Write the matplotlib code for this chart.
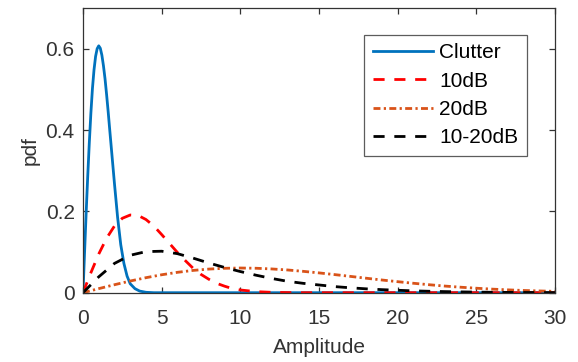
import matplotlib
matplotlib.use("Agg")
import matplotlib.pyplot as plt

plt.rcParams["font.family"] = ["Liberation Sans", "DejaVu Sans"]

# ---- data ----
clutter_x = [0, 0.1, 0.2, 0.3, 0.4, 0.5, 0.6, 0.7, 0.8, 0.9, 1.0, 1.1, 1.2,
             1.3, 1.4, 1.5, 1.6, 1.7, 1.8, 1.9, 2.0, 2.2, 2.4, 2.6, 2.8, 3.0,
             3.3, 3.6, 4.0, 4.5, 30]
clutter_y = [0, 0.0995, 0.196, 0.286, 0.368, 0.441, 0.502, 0.548, 0.581, 0.600,
             0.607, 0.601, 0.584, 0.558, 0.526, 0.487, 0.445, 0.400, 0.356,
             0.312, 0.268, 0.185, 0.118, 0.072, 0.041, 0.022, 0.010, 0.004,
             0.001, 0, 0]

db10_x = [0, 0.5, 1, 1.5, 2, 2.5, 3, 3.5, 4, 4.5, 5, 5.5, 6, 6.5, 7, 7.5, 8,
          8.5, 9, 9.5, 10, 11, 12, 13, 14, 30]
db10_y = [0, 0.049, 0.095, 0.134, 0.164, 0.183, 0.191, 0.190, 0.180, 0.164,
          0.143, 0.121, 0.099, 0.079, 0.060, 0.045, 0.033, 0.023, 0.016, 0.010,
          0.0067, 0.0026, 0.0009, 0.0003, 0, 0]

db20_x = list(range(0, 31))
db20_y = [0, 0.0100, 0.0196, 0.0287, 0.0369, 0.0441, 0.0501, 0.0548, 0.0581,
          0.0600, 0.0607, 0.0601, 0.0584, 0.0559, 0.0525, 0.0487, 0.0445,
          0.0401, 0.0356, 0.0312, 0.0271, 0.0232, 0.0196, 0.0163, 0.0135,
          0.0110, 0.0088, 0.0070, 0.0055, 0.0043, 0.0033]

mix_x = [0, 1, 2, 3, 4, 5, 6, 7, 8, 9, 10, 11, 12, 13, 14, 15, 16, 17, 18, 19,
         20, 21, 22, 23, 24, 25, 26, 28, 30]
mix_y = [0, 0.039, 0.072, 0.092, 0.101, 0.102, 0.096, 0.085, 0.073, 0.062,
         0.052, 0.043, 0.035, 0.028, 0.023, 0.019, 0.015, 0.012, 0.0095,
         0.0075, 0.006, 0.0045, 0.0035, 0.0027, 0.002, 0.0015, 0.001, 0.0005,
         0.0002]

labels = ["Clutter", "10dB", "20dB", "10-20dB"]

FS = 15
INK = "#333333"

fig = plt.figure(figsize=(5.78, 3.62), dpi=100)
ax = fig.add_axes([83 / 578, 1 - 292.7 / 362, 472 / 578, (292.7 - 8) / 362])

ax.plot(clutter_x, clutter_y, color="#0072BD", lw=2.0, label=labels[0])
ax.plot(db10_x, db10_y, color="#FF0000", lw=2.0, ls=(0, (4, 3.5)),
        label=labels[1])
ax.plot(db20_x, db20_y, color="#D95319", lw=2.0, ls=(0, (2.5, 1.2, 0.8, 1.2)),
        label=labels[2])
ax.plot(mix_x, mix_y, color="black", lw=2.0, ls=(0, (4, 3.5)),
        label=labels[3])

ax.set_xlim(0, 30)
ax.set_ylim(0, 0.7)
ax.set_xticks([0, 5, 10, 15, 20, 25, 30])
ax.set_yticks([0, 0.2, 0.4, 0.6])
ax.set_yticklabels(["0", "0.2", "0.4", "0.6"])

for s in ax.spines.values():
    s.set_color(INK)
    s.set_linewidth(0.9)
ax.tick_params(direction="in", length=4, width=0.9, color=INK,
               top=True, right=True, labelsize=FS, labelcolor=INK)
ax.tick_params(axis="x", pad=12)
ax.tick_params(axis="y", pad=6)

ax.set_xlabel("Amplitude", fontsize=FS, color=INK, labelpad=7)
ax.set_ylabel("pdf", fontsize=FS, color=INK, labelpad=4)

leg = ax.legend(loc="upper right", bbox_to_anchor=(526.7 / 578, 1 - 35 / 362),
                bbox_transform=fig.transFigure, fontsize=FS, frameon=True,
                fancybox=False, handlelength=2.9, handletextpad=0.3,
                labelspacing=0.45, borderpad=0.4, borderaxespad=0)
leg.get_frame().set_edgecolor(INK)
leg.get_frame().set_linewidth(0.9)

fig.savefig("out.png", dpi=100)
